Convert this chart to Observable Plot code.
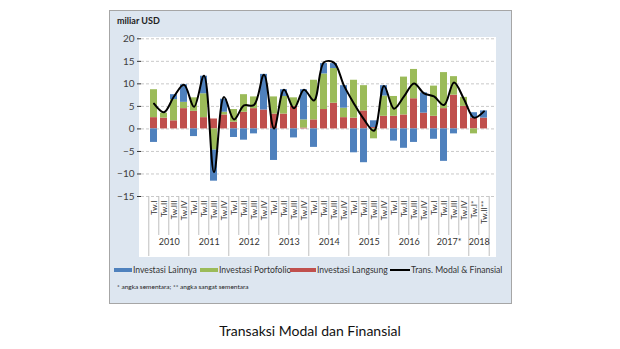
<!DOCTYPE html>
<html><head><meta charset="utf-8">
<script src="https://cdn.jsdelivr.net/npm/d3@7"></script>
<script src="https://cdn.jsdelivr.net/npm/@observablehq/plot@0.6"></script>
<style>
html,body{margin:0;padding:0;background:#fff;}
body{width:620px;height:349px;position:relative;overflow:hidden;font-family:Lato,"Open Sans",sans-serif;color:#222;}
#panel{position:absolute;left:109px;top:10px;width:401px;height:292px;background:#dde6f0;border:1px solid #a6a6a6;}
#white{position:absolute;left:139px;top:37px;width:357px;height:220px;background:#fff;}
#chart{position:absolute;left:109px;top:10px;}
.t{position:absolute;white-space:nowrap;}
.sw{position:absolute;height:4px;}
</style></head>
<body>
<div id="panel"></div>
<div id="white"></div>
<div id="chart"></div>
<div class="t" style="left:117px;top:15px;font-size:9px;font-weight:bold;line-height:12px;">miliar USD</div>
<div id="legend"></div>
<div class="t" style="left:117px;top:283px;font-size:6.5px;line-height:8px;">* angka sementara; ** angka sangat sementara</div>
<div class="t" style="left:0;width:620px;text-align:center;top:322px;font-size:14px;line-height:18px;color:#111;">Transaksi Modal dan Finansial</div>
<script>
// ---- data ----
const quarters = ["Tw.I","Tw.II","Tw.III","Tw.IV","Tw.I","Tw.II","Tw.III","Tw.IV","Tw.I","Tw.II","Tw.III","Tw.IV","Tw.I","Tw.II","Tw.III","Tw.IV","Tw.I","Tw.II","Tw.III","Tw.IV","Tw.I","Tw.II","Tw.III","Tw.IV","Tw.I","Tw.II","Tw.III","Tw.IV","Tw.I","Tw.II","Tw.III","Tw.IV","Tw.I*","Tw.II**"];
const years = ["2010","2011","2012","2013","2014","2015","2016","2017*","2018"];
const yearQuarterCounts = [4,4,4,4,4,4,4,4,2];
const investasiLainnya =    [-3.0, 0.0, 1.1, 3.9, -1.7, 3.9, -6.9, 2.9, -1.9, -2.5, -1.1, 7.9, -7.0, 1.5, -2.0, 6.7, -4.1, 2.3, 1.1, 5.0, -5.3, -7.5, 1.5, 2.3, -2.7, -4.3, -3.0, 4.5, -2.3, -7.2, -1.1, 0.0, 1.2, 1.6];
const investasiPortofolio = [ 6.2, 1.1, 4.7, 1.4, 3.0, 5.3, -4.7, 0.6, 2.8, 3.9, 2.6, 0.0, 3.8, 3.9, 1.9, 1.8, 8.8, 7.9, 7.7, 2.1, 8.4, 5.6, -2.2, 4.5, 4.4, 8.4, 6.5, 0.0, 6.7, 8.0, 4.1, 2.0, -1.1, 0.0];
const investasiLangsung =   [ 2.5, 2.4, 1.8, 4.5, 3.9, 2.5, 2.2, 3.1, 1.5, 3.7, 4.5, 4.2, 3.3, 3.3, 5.0, 0.2, 2.0, 4.3, 5.7, 2.5, 2.4, 4.0, 0.3, 2.8, 2.8, 3.1, 6.7, 3.5, 2.8, 4.5, 7.5, 5.0, 2.4, 2.4];
const transModalFinansial = [ 5.6, 3.7, 7.2, 9.8, 4.9, 11.8, -9.6, 7.1, 2.1, 5.2, 5.3, 12.0, 0.1, 8.7, 4.6, 8.7, 6.3, 14.8, 14.7, 9.6, 5.6, 2.1, -0.4, 9.5, 4.5, 7.2, 10.1, 7.9, 7.2, 5.3, 10.3, 6.6, 2.5, 3.9];
const yTicks = [-15, -10, -5, 0, 5, 10, 15, 20];
const seriesNames = ["Investasi Lainnya", "Investasi Portofolio", "Investasi Langsung"];
const seriesColors = ["#4f81bd", "#9bbb59", "#c0504d"];
const lineName = "Trans. Modal & Finansial";

// ---- build tables ----
const n = quarters.length;
const stackOrder = [[seriesNames[2], investasiLangsung], [seriesNames[1], investasiPortofolio], [seriesNames[0], investasiLainnya]];
const rows = [];
for (const [name, vals] of stackOrder) vals.forEach((v, i) => rows.push({i, name, v}));
const lineRows = transModalFinansial.map((v, i) => ({i, v}));
const yearRows = [];
let start = 0;
years.forEach((label, k) => {
  const c = yearQuarterCounts[k];
  yearRows.push({label, start, mid: start + Math.floor((c - 1) / 2), end: start + c - 1});
  start += c;
});
const yearStarts = new Set(yearRows.map(d => d.start));
const shortSeps = d3.range(n).filter(i => !yearStarts.has(i));
const longSeps = yearRows.map(d => d.start);

const W = 403, H = 250, mL = 32, mR = 16.5, mT = 28.3, mB = 64;
const frameH = H - mT - mB;
const step = (W - mL - mR) / n;

const chart = Plot.plot({
  width: W, height: H,
  marginLeft: mL, marginRight: mR, marginTop: mT, marginBottom: mB,
  style: {background: "transparent", fontFamily: "Lato, sans-serif", fontSize: "8px", color: "#333", overflow: "visible"},
  x: {type: "band", domain: d3.range(n), paddingInner: 0.26, paddingOuter: 0.13,
      tickFormat: i => quarters[i], tickRotate: -90, tickSize: 0, tickPadding: 4, label: null},
  y: {domain: [-15, 20], ticks: yTicks, tickSize: 4, tickPadding: 3, label: null},
  color: {domain: seriesNames, range: seriesColors},
  marks: [
    Plot.ruleY(yTicks, {stroke: "#c9c9c9", strokeDasharray: "3,2", strokeWidth: 1}),
    Plot.ruleX(shortSeps, {x: d => d, dx: -step / 2, stroke: "#bfbfbf", insetTop: frameH, insetBottom: -39}),
    Plot.ruleX(longSeps, {x: d => d, dx: -step / 2, stroke: "#bfbfbf", insetTop: frameH, insetBottom: -60}),
    Plot.ruleX([n - 1], {x: d => d, dx: step / 2, stroke: "#bfbfbf", insetTop: frameH, insetBottom: -60}),
    Plot.barY(rows, {x: "i", y: "v", fill: "name"}),
    Plot.line(lineRows, {x: "i", y: "v", stroke: "#000", strokeWidth: 2, curve: "catmull-rom"}),
    Plot.text(yearRows, {x: "mid", text: "label", frameAnchor: "bottom", dx: step / 2, dy: 48, fontSize: 9, fill: "#333"})
  ]
});
d3.select(chart).selectAll('[aria-label^="y-axis"]').attr("font-size", 10).attr("fill", "#404040");
document.getElementById("chart").appendChild(chart);

// ---- legend ----
const legend = document.getElementById("legend");
const legendItems = [
  {label: seriesNames[0], color: seriesColors[0], x: 114, w: 18, type: "rect"},
  {label: seriesNames[1], color: seriesColors[1], x: 200, w: 18, type: "rect"},
  {label: seriesNames[2], color: seriesColors[2], x: 290, w: 26, type: "rect"},
  {label: lineName, color: "#000", x: 390, w: 20, type: "line"}
];
for (const it of legendItems) {
  const sw = document.createElement("div");
  sw.className = "sw";
  sw.style.left = it.x + "px";
  sw.style.width = it.w + "px";
  sw.style.background = it.color;
  sw.style.top = (it.type === "line" ? 269 : 268) + "px";
  sw.style.height = (it.type === "line" ? 2 : 4) + "px";
  legend.appendChild(sw);
  const t = document.createElement("div");
  t.className = "t";
  t.textContent = it.label;
  t.style.left = (it.x + it.w + 1) + "px";
  t.style.top = "264px";
  t.style.fontSize = "8.6px";
  t.style.lineHeight = "12px";
  t.style.color = "#333";
  legend.appendChild(t);
}
</script>
</body></html>
